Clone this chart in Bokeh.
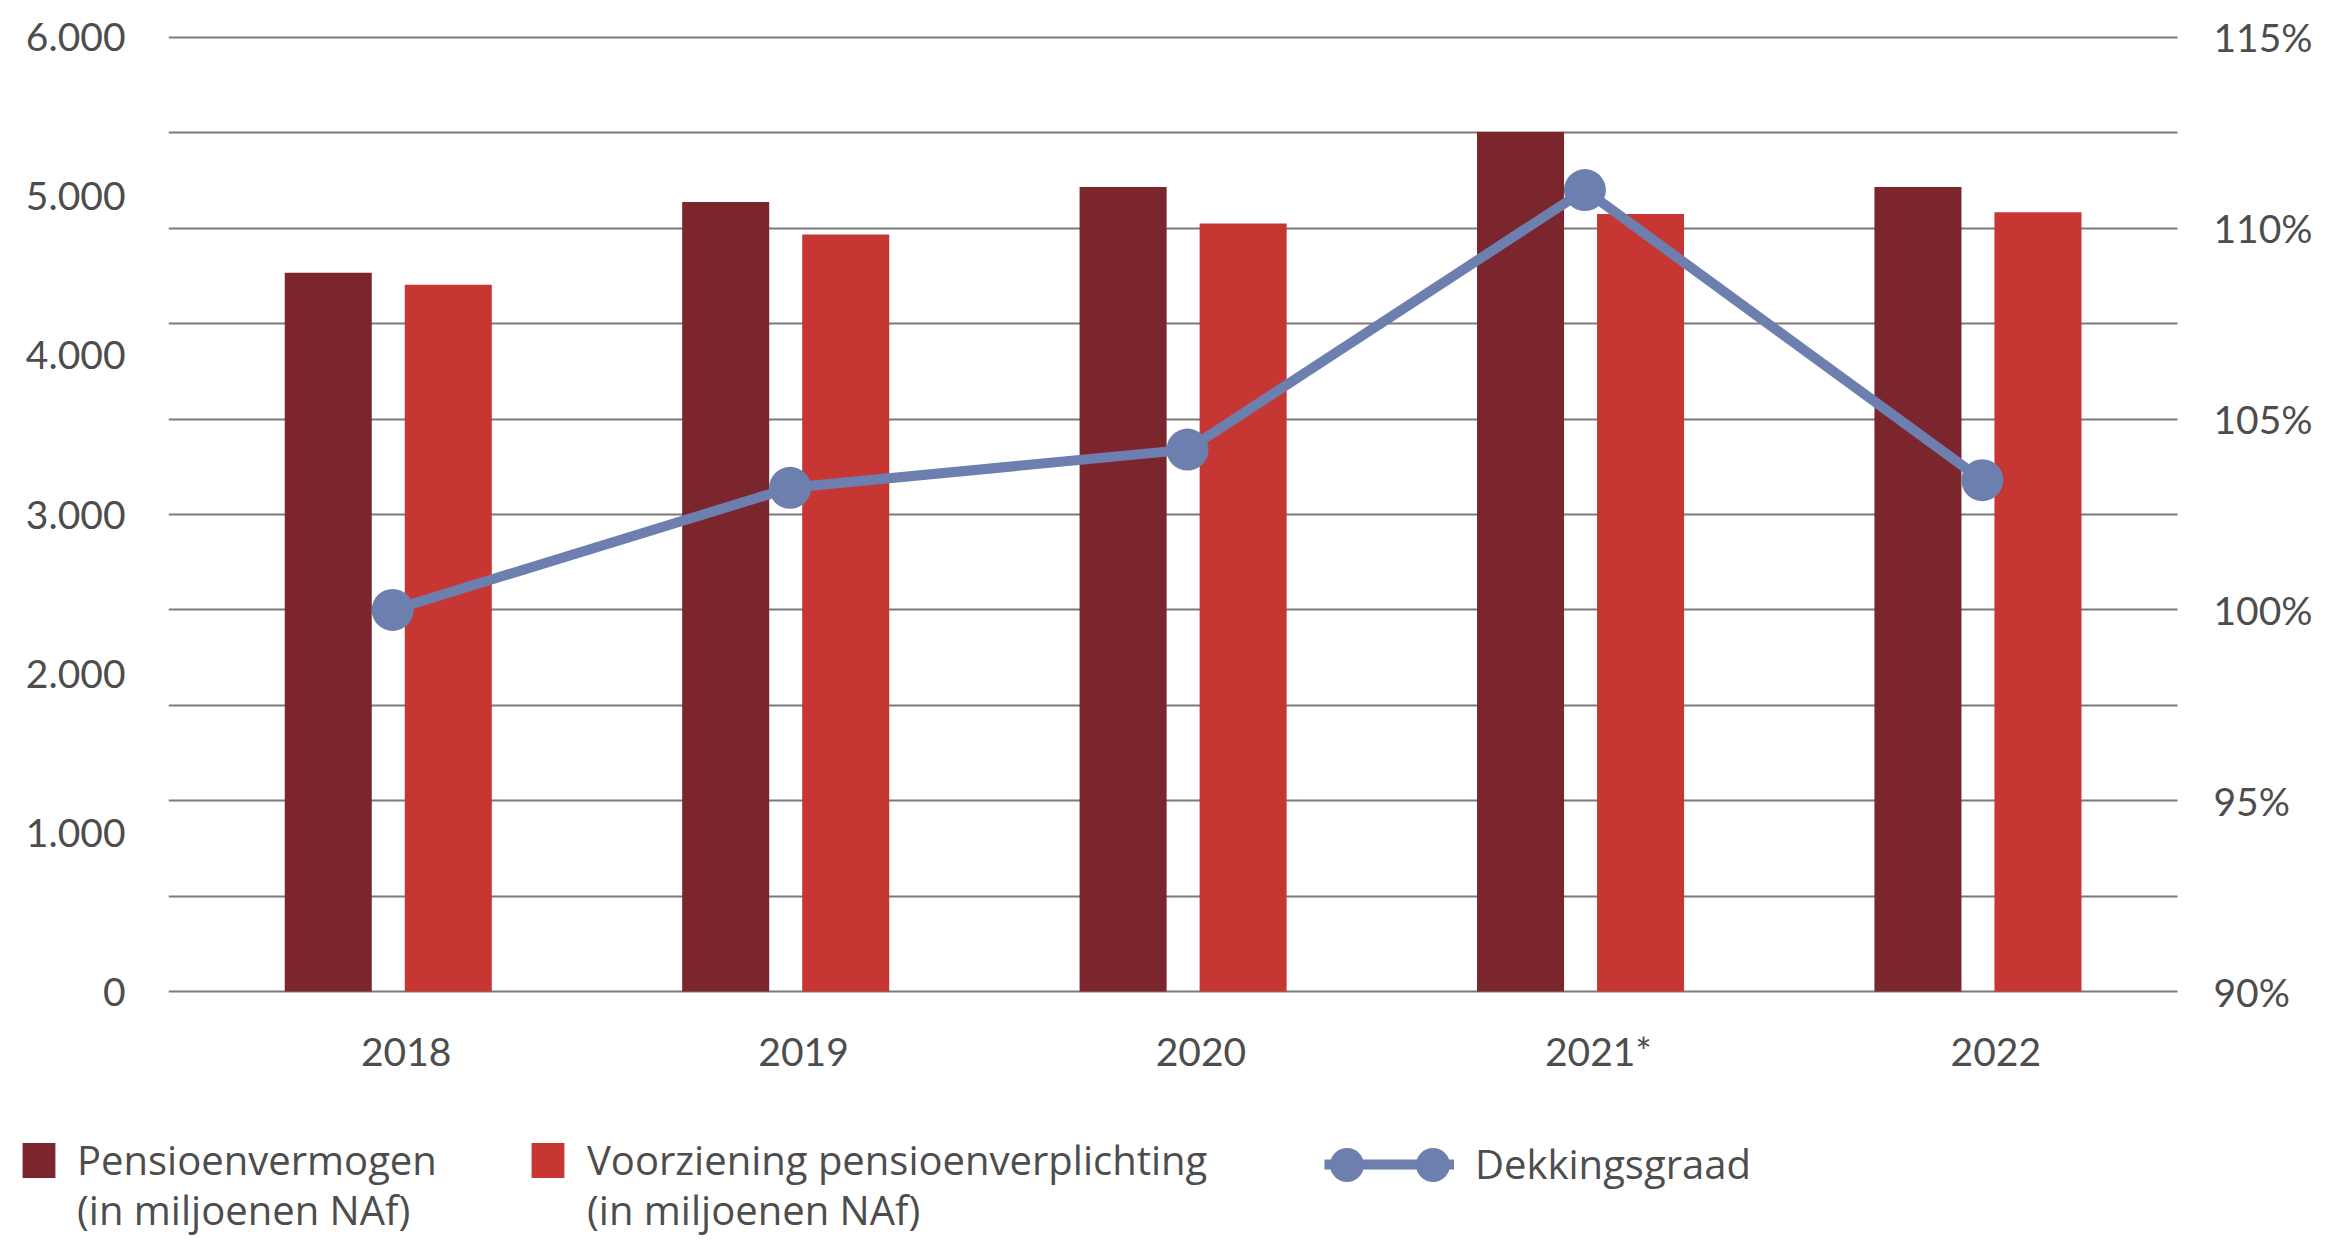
from bokeh.plotting import figure
from bokeh.models import (ColumnDataSource, FactorRange, Range1d, LinearAxis, FixedTicker,
                          Legend, LegendItem, Grid)
from bokeh.transform import dodge
from bokeh.core.properties import value
from bokeh.embed import file_html
from bokeh.resources import INLINE

# ---- data ----
years = ["2018", "2019", "2020", "2021*", "2022"]
pensioenvermogen = [4520, 4965, 5060, 5405, 5060]
voorziening = [4445, 4760, 4830, 4890, 4900]
dekkingsgraad = [100.0, 103.2, 104.2, 111.0, 103.4]

left_ticks = [0, 1000, 2000, 3000, 4000, 5000, 6000]
left_tick_labels = ["0", "1.000", "2.000", "3.000", "4.000", "5.000", "6.000"]
right_ticks = [90, 95, 100, 105, 110, 115]
right_tick_labels = ["90%", "95%", "100%", "105%", "110%", "115%"]
grid_ticks = [90, 92.5, 95, 97.5, 100, 102.5, 105, 107.5, 110, 112.5, 115]

legend_first_lines = ["Pensioenvermogen", "Voorziening pensioenverplichting", "Dekkingsgraad"]
legend_second_lines = ["(in miljoenen NAf)", "(in miljoenen NAf)"]

# ---- style ----
DARK = "#7B262D"
RED = "#C63734"
BLUE = "#6D7FAE"
TEXT = "#4D4D4D"
GRID = "#7A7A7A"
FONT = "Lato"
LEG_FONT = "Open Sans"
LEG_SIZE = "40px"

W = 2325
H_MAIN = 1090
H_LEG = 150

src = ColumnDataSource(dict(year=years, pv=pensioenvermogen, vz=voorziening, dg=dekkingsgraad))

pad = 12  # tiny range extension so the edge gridlines stay visible
xr = FactorRange(*years, range_padding=0.0392)
p = figure(width=W, height=H_MAIN, x_range=xr,
           y_range=Range1d(-pad, 6000 + pad),
           output_backend="svg", toolbar_location=None,
           min_border_left=168, min_border_right=92,
           min_border_top=35, min_border_bottom=97)
p.extra_y_ranges = {"pct": Range1d(90 - pad / 6000 * 25, 115 + pad / 6000 * 25)}
p.outline_line_color = None
p.xgrid.visible = False
p.ygrid.visible = False

# horizontal gridlines stop a little before the right edge of the frame
grid = Grid(dimension=1, ticker=FixedTicker(ticks=grid_ticks), y_range_name="pct",
            cross_bounds=(-0.098, 4.958), grid_line_color=GRID, grid_line_width=2)
p.add_layout(grid)

def style_axis(ax):
    ax.axis_line_color = None
    ax.major_tick_line_color = None
    ax.minor_tick_line_color = None
    ax.major_label_text_font = FONT
    ax.major_label_text_font_size = "39px"
    ax.major_label_text_color = TEXT

yl = p.yaxis[0]
yl.ticker = FixedTicker(ticks=left_ticks)
yl.major_label_overrides = dict(zip(left_ticks, left_tick_labels))
style_axis(yl)
yl.major_label_standoff = 37

yr = LinearAxis(y_range_name="pct", ticker=FixedTicker(ticks=right_ticks),
                major_label_overrides=dict(zip(right_ticks, right_tick_labels)))
style_axis(yr)
yr.major_label_standoff = -26
p.add_layout(yr, "right")

xa = p.xaxis[0]
style_axis(xa)
xa.major_label_standoff = 28

bar_shift = -0.045
line_shift = -0.034
b1 = p.vbar(x=dodge("year", -0.151 + bar_shift, range=xr), top="pv", width=0.219, source=src,
            fill_color=DARK, line_color=None)
b2 = p.vbar(x=dodge("year", 0.151 + bar_shift, range=xr), top="vz", width=0.219, source=src,
            fill_color=RED, line_color=None)
ln = p.line(x=dodge("year", line_shift, range=xr), y="dg", source=src, y_range_name="pct",
            line_color=BLUE, line_width=10)
sc = p.scatter(x=dodge("year", line_shift, range=xr), y="dg", source=src, y_range_name="pct",
               size=42, fill_color=BLUE, line_color=None)

# ---- legend strip (separate root so its frame spans the full width) ----
lf = figure(width=W, height=H_LEG, x_range=FactorRange(*years), y_range=Range1d(20000, 20001),
            x_axis_type=None, y_axis_type=None, output_backend="svg", toolbar_location=None,
            min_border=0, min_border_left=0, min_border_right=0, min_border_top=0, min_border_bottom=0)
lf.outline_line_color = None
lf.xgrid.visible = False
lf.ygrid.visible = False

# same series, drawn outside the strip's visible range: only their legend symbols show
d1 = lf.vbar(x="year", top="pv", width=0.2, source=src, fill_color=DARK, line_color=None)
d2 = lf.vbar(x="year", top="vz", width=0.2, source=src, fill_color=RED, line_color=None)
d3 = lf.line(x="year", y="dg", source=src, line_color=BLUE, line_width=10)
d4 = lf.scatter(x="year", y="dg", source=src, size=34, fill_color=BLUE, line_color=None)
d0 = lf.vbar(x="year", top="pv", width=0.2, source=src, fill_alpha=0, line_alpha=0)

common = dict(border_line_color=None, background_fill_alpha=0, padding=0, margin=0, spacing=0,
              label_text_font=LEG_FONT, label_text_font_size=LEG_SIZE, label_text_color=TEXT,
              click_policy="none")

legends = [
    Legend(items=[LegendItem(label=value(legend_first_lines[0]), renderers=[d1], index=0)],
           location=(18, 53), glyph_width=41, glyph_height=44, label_standoff=18, **common),
    Legend(items=[LegendItem(label=value(legend_first_lines[1]), renderers=[d2], index=0)],
           location=(527, 53), glyph_width=41, glyph_height=44, label_standoff=19, **common),
    Legend(items=[LegendItem(label=value(legend_second_lines[0]), renderers=[d0], index=0)],
           location=(76, 3), glyph_width=1, glyph_height=44, label_standoff=0, **common),
    Legend(items=[LegendItem(label=value(legend_second_lines[1]), renderers=[d0], index=0)],
           location=(586, 3), glyph_width=1, glyph_height=44, label_standoff=0, **common),
    Legend(items=[LegendItem(label=value(legend_first_lines[2]), renderers=[d3])],
           location=(1324, 49), glyph_width=130, glyph_height=44, label_standoff=21, **common),
    Legend(items=[LegendItem(label=value(""), renderers=[d4], index=0)],
           location=(1304, 33), glyph_width=85, glyph_height=85, label_standoff=0, **common),
    Legend(items=[LegendItem(label=value(""), renderers=[d4], index=0)],
           location=(1390, 33), glyph_width=85, glyph_height=85, label_standoff=0, **common),
]
for lg in legends:
    lf.add_layout(lg)

open("out.html", "w").write(file_html([p, lf], INLINE))
